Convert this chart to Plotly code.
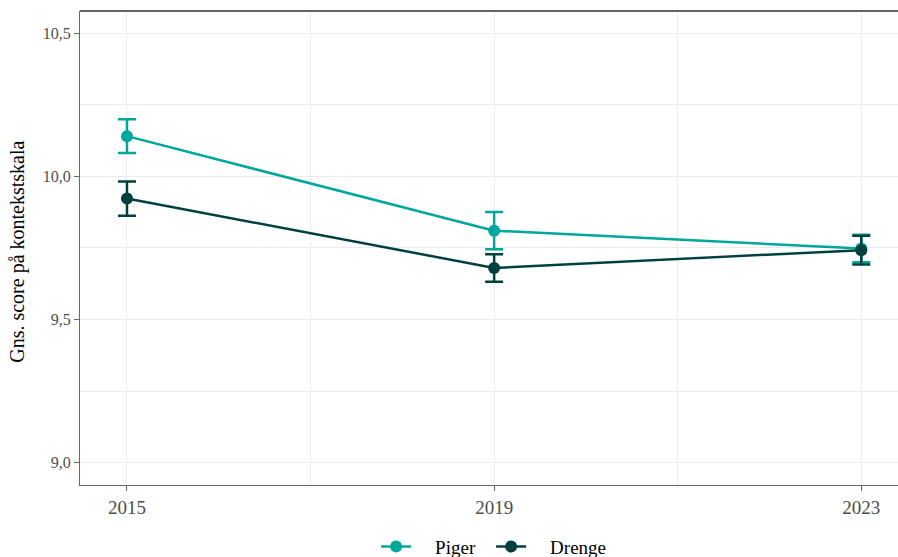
import plotly.graph_objects as go

years = [2015, 2019, 2023]
piger = [10.140, 9.810, 9.748]
piger_err = [0.059, 0.065, 0.048]
drenge = [9.922, 9.680, 9.742]
drenge_err = [0.060, 0.048, 0.050]

y_ticks = [9.0, 9.5, 10.0, 10.5]
y_ticklabels = ["9,0", "9,5", "10,0", "10,5"]
y_title = "Gns. score på kontekstskala"

col_p = "#00A79D"
col_d = "#00403E"
FONT = "Liberation Serif, Times New Roman, serif"
PAD = "\u00a0\u00a0\u00a0\u00a0"

fig = go.Figure()
for name, vals, err, col in [("Piger", piger, piger_err, col_p), ("Drenge", drenge, drenge_err, col_d)]:
    fig.add_trace(go.Scatter(
        x=years, y=vals, name=PAD + name, mode="lines+markers",
        line=dict(color=col, width=2.5),
        marker=dict(color=col, size=12),
        error_y=dict(type="data", array=err, visible=True, color=col, thickness=2.5, width=9),
    ))

fig.update_layout(
    width=898, height=557,
    paper_bgcolor="white", plot_bgcolor="white",
    margin=dict(l=80, r=0, t=11, b=72, autoexpand=False),
    font=dict(family=FONT, color="#000000"),
    showlegend=True,
    legend=dict(orientation="h", x=0.362, xanchor="left", y=-0.09, yanchor="top",
                font=dict(size=19, family=FONT, color="#000"), itemwidth=30,
                entrywidth=70, entrywidthmode="pixels", tracegroupgap=0),
)
fig.update_xaxes(
    range=[2014.488, 2023.40], automargin=False,
    tickvals=years, ticktext=[str(y) for y in years],
    showgrid=True, gridcolor="#EBEBEB", gridwidth=1,
    minor=dict(tickvals=[2017, 2021], showgrid=True, gridcolor="#EBEBEB", gridwidth=1, ticklen=0),
    showline=True, linecolor="#666666", linewidth=1,
    ticks="outside", ticklen=5, tickcolor="#666666",
    tickfont=dict(size=19, family=FONT, color="#4D4D4D"),
    zeroline=False,
)
fig.update_yaxes(
    range=[8.922, 10.577], automargin=False,
    tickvals=y_ticks, ticktext=y_ticklabels,
    showgrid=True, gridcolor="#EBEBEB", gridwidth=1,
    minor=dict(tickvals=[9.25, 9.75, 10.25], showgrid=True, gridcolor="#EBEBEB", gridwidth=1, ticklen=0),
    showline=True, linecolor="#666666", linewidth=1,
    ticks="outside", ticklen=5, tickcolor="#666666",
    tickfont=dict(size=16, family=FONT, color="#4D4D4D"),
    zeroline=False,
)
fig.add_annotation(text=y_title, xref="paper", yref="paper", x=-0.0758, y=0.492,
                   xanchor="center", yanchor="middle", textangle=-90, showarrow=False,
                   font=dict(size=20, family=FONT, color="#000"))
fig.add_shape(type="line", xref="paper", yref="paper", x0=0, x1=1, y0=1, y1=1,
              line=dict(color="#333333", width=1.5))

fig.write_html("out.html", config={"displayModeBar": False},
               post_script="document.body.style.margin='0';document.body.style.overflow='hidden';")
